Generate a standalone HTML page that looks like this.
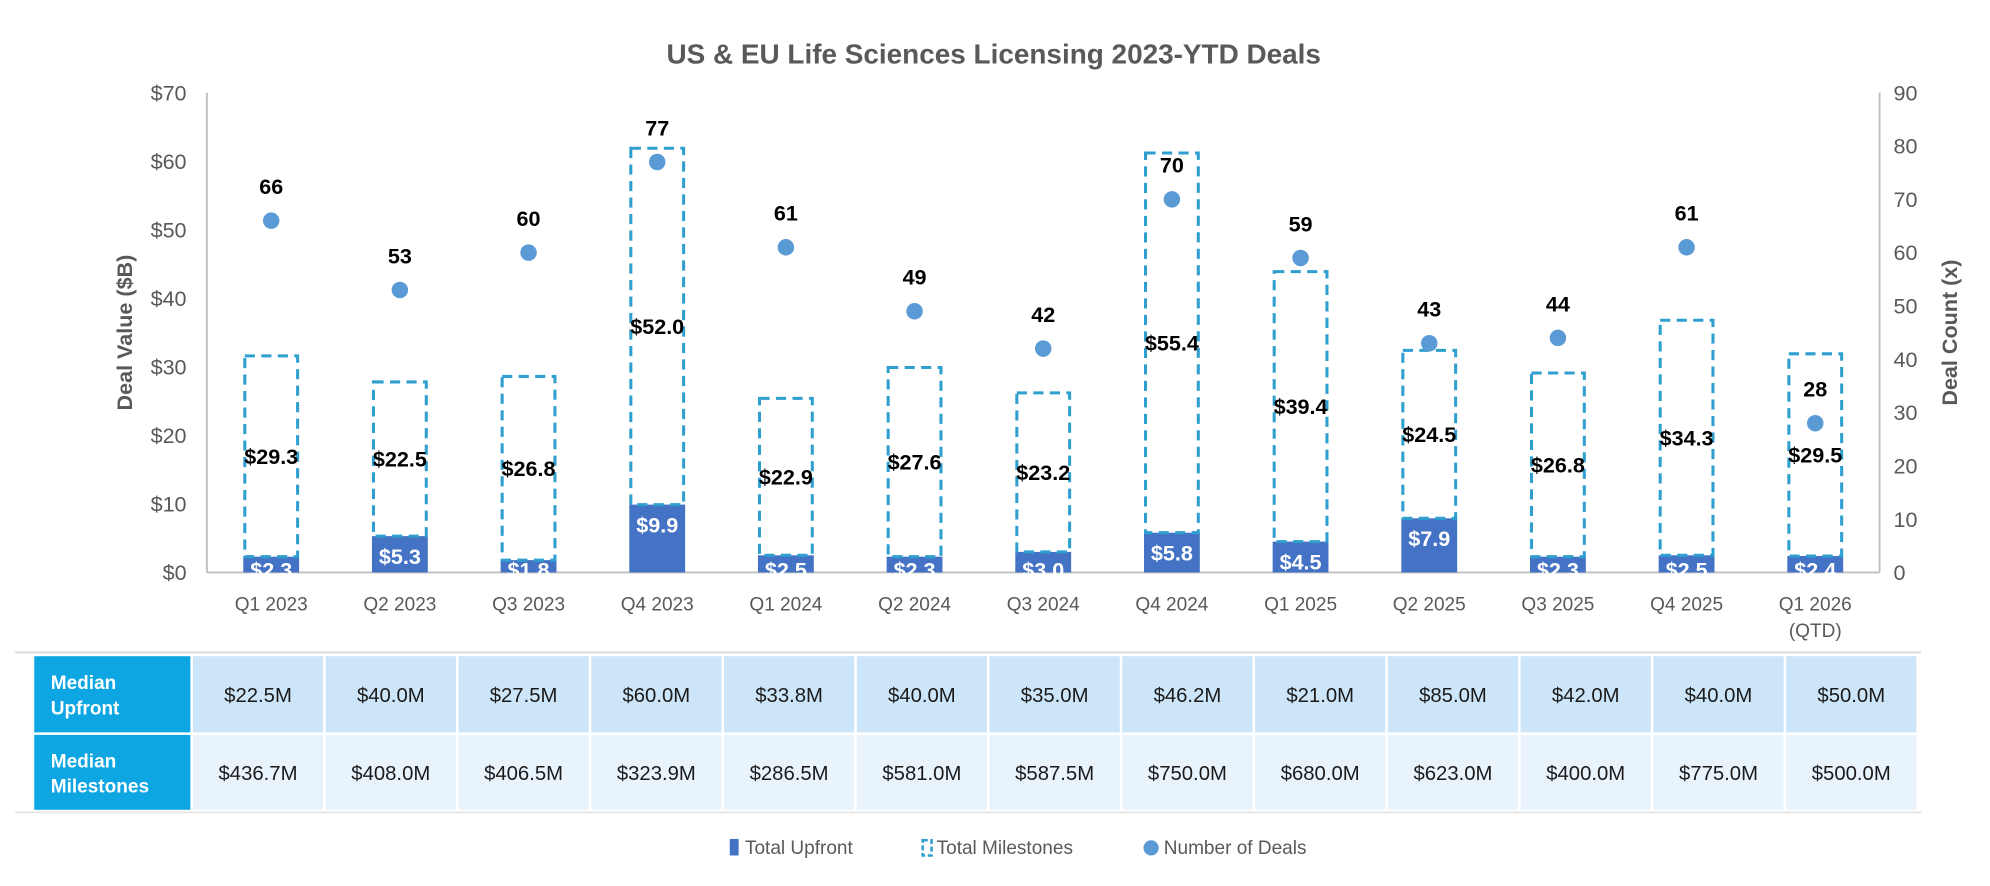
<!DOCTYPE html>
<html><head><meta charset="utf-8">
<style>
html,body{margin:0;padding:0;background:#fff;}
svg{display:block;font-family:"Liberation Sans",sans-serif;}
</style></head>
<body>
<svg id="chart" width="1990" height="886" viewBox="0 0 1568 698" xmlns="http://www.w3.org/2000/svg">
<text x="783" y="50" text-anchor="middle" font-size="22" font-weight="bold" fill="#595959">US &amp; EU Life Sciences Licensing 2023-YTD Deals</text>
<g id="axes"></g>
<g id="bars"></g>
<g id="dots"></g>
<g id="table"></g>
<g id="legend">
  <rect x="575" y="661" width="7" height="13" fill="#4472c4"/>
  <text x="587" y="673" font-size="15" fill="#595959">Total Upfront</text>
  <rect x="727" y="662" width="7" height="12" fill="none" stroke="#2e9fcf" stroke-width="2" stroke-dasharray="4,2"/>
  <text x="738" y="673" font-size="15" fill="#595959">Total Milestones</text>
  <circle cx="907" cy="668" r="6" fill="#5b9bd5"/>
  <text x="917" y="673" font-size="15" fill="#595959">Number of Deals</text>
</g>
</svg>
<script>
const categories=["Q1 2023","Q2 2023","Q3 2023","Q4 2023","Q1 2024","Q2 2024","Q3 2024","Q4 2024","Q1 2025","Q2 2025","Q3 2025","Q4 2025","Q1 2026"];
const upfront=[2.3,5.3,1.8,9.9,2.5,2.3,3.0,5.8,4.5,7.9,2.3,2.5,2.4];
const milestones=[29.3,22.5,26.8,52.0,22.9,27.6,23.2,55.4,39.4,24.5,26.8,34.3,29.5];
const deals=[66,53,60,77,61,49,42,70,59,43,44,61,28];
const leftTicks=[0,10,20,30,40,50,60,70];
const rightTicks=[0,10,20,30,40,50,60,70,80,90];
const medianUpfront=["$22.5M","$40.0M","$27.5M","$60.0M","$33.8M","$40.0M","$35.0M","$46.2M","$21.0M","$85.0M","$42.0M","$40.0M","$50.0M"];
const medianMilestones=["$436.7M","$408.0M","$406.5M","$323.9M","$286.5M","$581.0M","$587.5M","$750.0M","$680.0M","$623.0M","$400.0M","$775.0M","$500.0M"];

const NS="http://www.w3.org/2000/svg";
const X0=163,X1=1481,Y0=451,Y1=73;
const yL=v=>Y0-(v/70)*(Y0-Y1);
const yR=v=>Y0-(v/90)*(Y0-Y1);
const step=(X1-X0)/categories.length;
const xC=i=>X0+step*(i+0.5);
function mk(tag,attrs,parent,text){const e=document.createElementNS(NS,tag);for(const k in attrs)e.setAttribute(k,attrs[k]);if(text!==undefined)e.textContent=text;parent.appendChild(e);return e;}
const axes=document.getElementById('axes'),bars=document.getElementById('bars'),dots=document.getElementById('dots'),table=document.getElementById('table');

let e;
e=mk('line',{x1:X0,y1:Y1,x2:X0,y2:Y0,stroke:'#bfbfbf','stroke-width':1.5},axes);


e=mk('line',{x1:X1,y1:Y1,x2:X1,y2:Y0,stroke:'#bfbfbf','stroke-width':1.5},axes);


e=mk('line',{x1:X0,y1:Y0,x2:X1,y2:Y0,stroke:'#bfbfbf','stroke-width':1.5},axes);


leftTicks.forEach(v=>{
  const t=mk('text',{x:147,y:yL(v)+6,'text-anchor':'end','font-size':17,fill:'#595959'},axes,'$'+v);
  
  
});
rightTicks.forEach(v=>{
  const t=mk('text',{x:1492,y:yR(v)+6,'text-anchor':'start','font-size':17,fill:'#595959'},axes,String(v));
  
  
});
e=mk('text',{x:0,y:0,transform:'translate(104,262) rotate(-90)','text-anchor':'middle','font-size':17,'font-weight':'bold',fill:'#595959'},axes,'Deal Value ($B)');


e=mk('text',{x:0,y:0,transform:'translate(1542,262) rotate(-90)','text-anchor':'middle','font-size':17,'font-weight':'bold',fill:'#595959'},axes,'Deal Count (x)');



const bw=44;
categories.forEach((c,i)=>{
  const cx=xC(i);
  const t=mk('text',{x:cx,y:481,'text-anchor':'middle','font-size':15,fill:'#595959'},axes,c);
  
  
  if(i===categories.length-1){
    const q=mk('text',{x:cx,y:502,'text-anchor':'middle','font-size':15,fill:'#595959'},axes,'(QTD)');
    
    
  }
  const ut=yL(upfront[i]);
  const r=mk('rect',{x:cx-bw/2,y:ut,width:bw,height:Y0-ut,fill:'#4472c4'},bars);
  
  
  const mt=yL(upfront[i]+milestones[i]);
  const m=mk('rect',{x:cx-bw/2+1.2,y:mt,width:bw-2.4,height:ut-mt,fill:'none',stroke:'#2e9fcf','stroke-width':2.4,'stroke-dasharray':'8,5'},bars);
  
  
  const ul=mk('text',{x:cx,y:Math.min(ut+22,Y0+4),'text-anchor':'middle','font-size':17,'font-weight':'bold',fill:'#ffffff'},bars,'$'+upfront[i].toFixed(1));
  
  
  const ml=mk('text',{x:cx,y:yL(upfront[i]+milestones[i]/2)+6,'text-anchor':'middle','font-size':17,'font-weight':'bold',fill:'#000'},bars,'$'+milestones[i].toFixed(1));
  
  
  const dy=yR(deals[i]);
  const d=mk('circle',{cx:cx,cy:dy,r:6.5,fill:'#5b9bd5'},dots);
  
  
  const dl=mk('text',{x:cx,y:dy-21,'text-anchor':'middle','font-size':17,'font-weight':'bold',fill:'#000'},dots,String(deals[i]));
  
  
});

// table
e=mk('line',{x1:12,y1:514,x2:1514,y2:514,stroke:'#d9d9d9','stroke-width':1.5},table);


e=mk('line',{x1:12,y1:640,x2:1514,y2:640,stroke:'#e6e6e6','stroke-width':1.5},table);


const rows=[{label:['Median','Upfront'],vals:medianUpfront,y:517,h:60,fill:'#cde5f8'},{label:['Median','Milestones'],vals:medianMilestones,y:579,h:59,fill:'#e9f3fc'}];
rows.forEach((row,ri)=>{
  const hr=mk('rect',{x:27,y:row.y,width:123,height:row.h,fill:'#0ea5e3'},table);
  
  
  row.label.forEach((l,li)=>{
    const t=mk('text',{x:40,y:row.y+row.h/2-4+li*20,'font-size':15,'font-weight':'bold',fill:'#fff'},table,l);
    
    
  });
  row.vals.forEach((v,i)=>{
    const x0=152+i*(1512-152)/13;
    const w=(1512-152)/13-2;
    const c=mk('rect',{x:x0,y:row.y,width:w,height:row.h,fill:row.fill},table);
    
    
    const t=mk('text',{x:x0+w/2,y:row.y+row.h/2+6,'text-anchor':'middle','font-size':16,fill:'#1a1a1a'},table,v);
    
    
  });
});
</script>
</body></html>
